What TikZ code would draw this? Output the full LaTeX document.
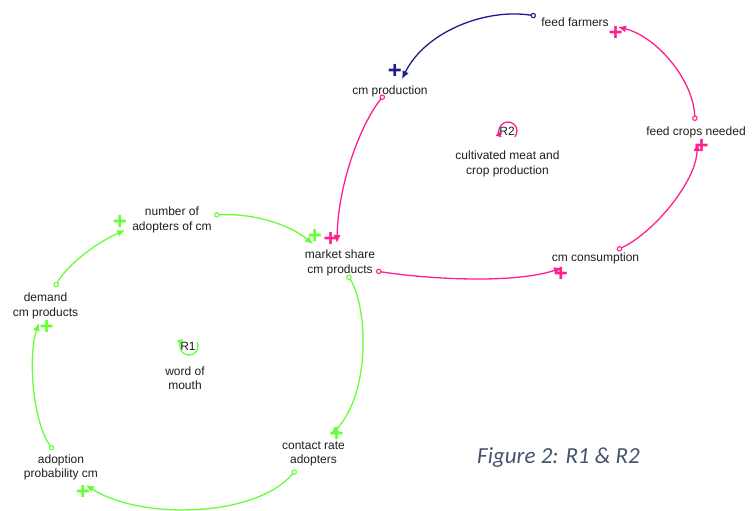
\documentclass[tikz,border=0pt]{standalone}
\usepackage{fontspec}
\setmainfont{Liberation Sans}
\newfontfamily\captionfont{Carlito}
\usetikzlibrary{arrows.meta}

\definecolor{linkpink}{HTML}{FF1F8E}
\definecolor{linkgreen}{HTML}{66FF33}
\definecolor{linknavy}{HTML}{1C1C8C}
\definecolor{txt}{HTML}{1E1E1E}
\definecolor{capcol}{HTML}{44546A}

\begin{document}
\begin{tikzpicture}[x=1pt,y=1pt,yscale=-1,
  var/.style={align=center, font=\fontsize{12}{14.5}\selectfont, text=txt, anchor=base, inner sep=0pt},
  link/.style={line width=1.3pt, {Circle[open,length=5.5pt,width=5.5pt,line width=1.1pt]}-{Latex[length=8pt,width=7pt]}},
  polarity/.style={font=\fontsize{24}{24}\selectfont\bfseries, inner sep=0pt},
  loopsym/.style={line width=1.3pt, -{Latex[length=6pt,width=6pt]}}]

\useasboundingbox (0,0) rectangle (755,511);

% variables (base anchor sits on the last line)
\node[var] (ff)  at (575,27)  {feed farmers};
\node[var] (cp)  at (390,94)  {cm production};
\node[var] (fcn) at (696,135) {feed crops needed};
\node[var] (cc)  at (595.5,261.5) {cm consumption};
\node[var] (ms)  at (340,273) {market share\\cm products};
\node[var] (na)  at (172,230) {number of\\adopters of cm};
\node[var] (dm)  at (45.5,316) {demand\\cm products};
\node[var] (ap)  at (61,477.5) {adoption\\probability cm};
\node[var] (cr)  at (313.5,463.5) {contact rate\\adopters};

% loop labels
\node[var] (r1)  at (188,350.5) {R1};
\node[var] (r1t) at (185,389.5) {word of\\mouth};
\node[var] (r2)  at (507,135) {R2};
\node[var] (r2t) at (507.5,174) {cultivated meat and\\crop production};

% connector end points
\coordinate (ff-o)  at (536,16);
\coordinate (cp-i)  at (402,79);
\coordinate (fcn-o) at (695,121);
\coordinate (ff-i)  at (618,27);
\coordinate (cc-o)  at (617,250);
\coordinate (fcn-i) at (697,143);
\coordinate (ms-op) at (376,271);
\coordinate (cc-i)  at (562,268);
\coordinate (cp-o)  at (384,95);
\coordinate (ms-ip) at (337,243);
\coordinate (na-o)  at (214,215);
\coordinate (ms-ig) at (313,244);
\coordinate (ms-og) at (347.5,275);
\coordinate (cr-i)  at (331,435);
\coordinate (cr-o)  at (296,470);
\coordinate (ap-i)  at (86,485);
\coordinate (ap-o)  at (53,450);
\coordinate (dm-i)  at (39,323);
\coordinate (dm-o)  at (55,287);
\coordinate (na-i)  at (125,230);

% R2: cultivated meat and crop production
\draw[link, linknavy] (ff-o) .. controls (485,8) and (425,32) .. (cp-i);
\draw[link, linkpink] (fcn-o) .. controls (693,78) and (655,36) .. (ff-i);
\draw[link, linkpink] (cc-o) .. controls (655,232) and (697,180) .. (fcn-i);
\draw[link, linkpink] (ms-op) .. controls (420,278) and (510,285) .. (cc-i);
\draw[link, linkpink] (cp-o) .. controls (360,125) and (338,185) .. (ms-ip);

% R1: word of mouth
\draw[link, linkgreen] (na-o) .. controls (255,213) and (290,225) .. (ms-ig);
\draw[link, linkgreen] (ms-og) .. controls (367,305) and (372,392) .. (cr-i);
\draw[link, linkgreen] (cr-o) .. controls (255,518) and (140,520) .. (ap-i);
\draw[link, linkgreen] (ap-o) .. controls (32,420) and (28,355) .. (dm-i);
\draw[link, linkgreen] (dm-o) .. controls (65,268) and (92,245) .. (na-i);

% polarity signs
\node[polarity, text=linknavy] (p1) at (395,71.5) {+};
\node[polarity, text=linkpink] (p2) at (615.7,33.3) {+};
\node[polarity, text=linkpink] (p3) at (701.7,146) {+};
\node[polarity, text=linkpink] (p4) at (561,274) {+};
\node[polarity, text=linkpink] (p5) at (330.7,239.3) {+};
\node[polarity, text=linkgreen] (p6) at (315,236) {+};
\node[polarity, text=linkgreen] (p7) at (336.7,434) {+};
\node[polarity, text=linkgreen] (p8) at (83,492) {+};
\node[polarity, text=linkgreen] (p9) at (46.7,327) {+};
\node[polarity, text=linkgreen] (p10) at (120,222) {+};

% loop direction symbols
\draw[loopsym, linkgreen] (189,346) ++(-25:9) arc[start angle=-25, end angle=232, radius=9];
\draw[loopsym, linkpink] (508,131) ++(40:9) arc[start angle=40, end angle=-228, radius=9];

% caption
\node[anchor=base west, inner sep=0pt, text=capcol, font=\captionfont\itshape\fontsize{23}{26}\selectfont] (cap) at (477,463) {Figure 2: R1 \& R2};
\end{tikzpicture}
\end{document}
